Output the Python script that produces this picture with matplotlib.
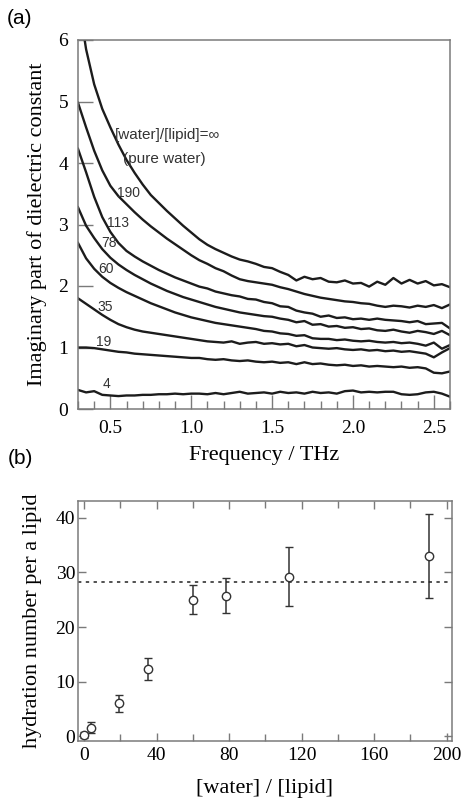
import numpy as np
import matplotlib.pyplot as plt
from matplotlib.ticker import MultipleLocator

# ---- panel (a): imaginary part of dielectric constant ----
freq = np.round(np.arange(0.30, 2.601, 0.05), 2)  # THz grid, 0.30 ... 2.60

eps_water = [6.70, 5.85, 5.28, 4.88, 4.58, 4.30, 4.05, 3.84, 3.65, 3.48, 3.35, 3.22,
             3.10, 2.98, 2.87, 2.76, 2.67, 2.60, 2.54, 2.48, 2.43, 2.40, 2.36, 2.31,
             2.29, 2.23, 2.18, 2.09, 2.15, 2.11, 2.13, 2.07, 2.06, 2.09, 2.04, 2.05,
             1.99, 2.07, 2.02, 2.13, 2.04, 2.10, 2.04, 2.08, 2.01, 2.03, 1.98]
eps_190 = [4.98, 4.58, 4.20, 3.88, 3.63, 3.46, 3.33, 3.20, 3.08, 2.97, 2.87, 2.77,
           2.68, 2.59, 2.50, 2.42, 2.36, 2.29, 2.24, 2.17, 2.11, 2.08, 2.06, 2.04,
           2.02, 1.98, 1.95, 1.91, 1.87, 1.84, 1.81, 1.79, 1.77, 1.75, 1.74, 1.72,
           1.71, 1.68, 1.66, 1.68, 1.67, 1.65, 1.68, 1.66, 1.69, 1.64, 1.70]
eps_113 = [4.23, 3.85, 3.45, 3.12, 2.88, 2.70, 2.57, 2.48, 2.40, 2.33, 2.26, 2.20,
           2.14, 2.09, 2.04, 1.99, 1.96, 1.91, 1.88, 1.85, 1.83, 1.79, 1.78, 1.74,
           1.72, 1.67, 1.66, 1.60, 1.57, 1.55, 1.50, 1.52, 1.48, 1.49, 1.46, 1.47,
           1.45, 1.47, 1.45, 1.44, 1.43, 1.41, 1.43, 1.38, 1.39, 1.40, 1.31]
eps_78 = [3.28, 2.98, 2.78, 2.60, 2.46, 2.35, 2.26, 2.18, 2.11, 2.04, 1.98, 1.92,
          1.87, 1.82, 1.78, 1.74, 1.70, 1.66, 1.63, 1.60, 1.57, 1.55, 1.53, 1.51,
          1.50, 1.47, 1.45, 1.41, 1.43, 1.37, 1.38, 1.34, 1.35, 1.32, 1.33, 1.30,
          1.31, 1.28, 1.27, 1.29, 1.26, 1.24, 1.27, 1.25, 1.22, 1.27, 1.20]
eps_60 = [2.70, 2.45, 2.28, 2.15, 2.05, 1.97, 1.90, 1.84, 1.78, 1.72, 1.67, 1.62,
          1.57, 1.53, 1.49, 1.46, 1.43, 1.40, 1.38, 1.36, 1.34, 1.32, 1.30, 1.27,
          1.26, 1.23, 1.22, 1.19, 1.20, 1.15, 1.14, 1.14, 1.12, 1.13, 1.11, 1.10,
          1.11, 1.09, 1.08, 1.09, 1.07, 1.08, 1.06, 1.03, 1.08, 0.98, 1.04]
eps_35 = [1.80, 1.71, 1.62, 1.53, 1.45, 1.38, 1.33, 1.29, 1.26, 1.24, 1.22, 1.20,
          1.18, 1.16, 1.14, 1.12, 1.10, 1.09, 1.08, 1.10, 1.06, 1.08, 1.09, 1.06,
          1.07, 1.05, 1.06, 1.02, 1.04, 1.00, 0.99, 0.98, 0.99, 0.97, 0.96, 0.97,
          0.95, 0.96, 0.94, 0.95, 0.93, 0.94, 0.92, 0.90, 0.84, 0.92, 0.99]
eps_19 = [1.00, 1.00, 0.99, 0.97, 0.95, 0.93, 0.92, 0.90, 0.89, 0.88, 0.87, 0.86,
          0.85, 0.84, 0.83, 0.83, 0.81, 0.80, 0.81, 0.79, 0.78, 0.79, 0.77, 0.76,
          0.77, 0.75, 0.76, 0.73, 0.76, 0.73, 0.74, 0.72, 0.71, 0.72, 0.70, 0.71,
          0.69, 0.70, 0.69, 0.68, 0.69, 0.67, 0.68, 0.66, 0.59, 0.58, 0.61]
eps_4 = [0.31, 0.27, 0.29, 0.23, 0.22, 0.21, 0.22, 0.22, 0.23, 0.23, 0.24, 0.24,
         0.25, 0.24, 0.25, 0.25, 0.24, 0.26, 0.24, 0.26, 0.28, 0.25, 0.26, 0.27,
         0.25, 0.28, 0.26, 0.27, 0.25, 0.28, 0.26, 0.27, 0.25, 0.29, 0.30, 0.27,
         0.28, 0.27, 0.28, 0.28, 0.24, 0.23, 0.24, 0.27, 0.28, 0.25, 0.20]

curves = [eps_water, eps_190, eps_113, eps_78, eps_60, eps_35, eps_19, eps_4]

# label text and its (frequency, value) anchor
curve_labels = ["190", "113", "78", "60", "35", "19", "4"]
label_f = [0.541, 0.477, 0.446, 0.425, 0.421, 0.409, 0.45]
label_v = [3.51, 3.02, 2.70, 2.28, 1.66, 1.09, 0.40]

# ---- panel (b): hydration number ----
ratio = [0, 4, 19, 35, 60, 78, 113, 190]
hydration = [0.2, 1.5, 6.0, 12.3, 25.0, 25.7, 29.2, 33.0]
hyd_err = [0.5, 1.0, 1.5, 2.0, 2.7, 3.2, 5.4, 7.7]
hyd_level = 28.2

serif = "Liberation Serif"
sans = ["Liberation Sans", "DejaVu Sans"]
spine_c = "#7a7a7a"
line_c = "#1c1c1c"
text_c = "#333333"

fig = plt.figure(figsize=(4.63, 8.0), dpi=100)

# ---------------- (a) ----------------
ax1 = fig.add_axes([78/463, 1-409/800, 372/463, 369/800])
for c in curves:
    ax1.plot(freq, c, color=line_c, lw=1.7, solid_joinstyle="round")
ax1.set_xlim(0.3, 2.6)
ax1.set_ylim(0, 6)
ax1.xaxis.set_major_locator(MultipleLocator(0.5))
ax1.xaxis.set_minor_locator(MultipleLocator(0.1))
ax1.yaxis.set_major_locator(MultipleLocator(1))
ax1.tick_params(axis="x", which="major", direction="in", length=10, width=1,
                color=spine_c, pad=8, labelsize=14)
ax1.tick_params(axis="x", which="minor", direction="in", length=6, width=1, color=spine_c)
ax1.tick_params(axis="y", which="major", direction="in", length=11, width=1,
                color=spine_c, pad=7, labelsize=14)
for lab in ax1.get_yticklabels():
    lab.set_fontfamily(serif)
ax1.set_xticks([0.5, 1.0, 1.5, 2.0, 2.5])
ax1.set_xticklabels(["0.5", "1.0", "1.5", "2.0", "2.5"], fontfamily=serif, fontsize=14)
for s in ax1.spines.values():
    s.set_color(spine_c)
    s.set_linewidth(1.1)
ax1.set_xlabel("Frequency / THz", fontfamily=serif, fontsize=16)
ax1.set_ylabel("Imaginary part of dielectric constant", fontfamily=serif, fontsize=16)
ax1.xaxis.set_label_coords(0.5, -0.10)
ax1.yaxis.set_label_coords(-0.083, 0.5)

ax1.text(0.528, 4.46, "[water]/[lipid]=\u221e", family=sans, fontsize=11,
         color=text_c, ha="left", va="center")
ax1.text(0.578, 4.07, "(pure water)", family=sans, fontsize=11,
         color=text_c, ha="left", va="center")
for t, f, v in zip(curve_labels, label_f, label_v):
    ax1.text(f, v, t, family=sans, fontsize=10, color=text_c, ha="left", va="center")

# ---------------- (b) ----------------
ax2 = fig.add_axes([78/463, 1-741/800, 374/463, 240/800])
ax2.errorbar(ratio, hydration, yerr=hyd_err, fmt="o", mfc="white", mec="#333333",
             ms=6, mew=1, ecolor="#333333", elinewidth=1.1, capsize=3, capthick=1.1)
ax2.axhline(hyd_level, color="#222222", lw=1.1, ls=(0, (2.2, 2.9)))
ax2.set_xlim(-3.4, 202.9)
ax2.set_ylim(-0.9, 43.1)
ax2.xaxis.set_major_locator(MultipleLocator(40))
ax2.xaxis.set_minor_locator(MultipleLocator(20))
ax2.yaxis.set_major_locator(MultipleLocator(10))
ax2.tick_params(axis="both", which="major", direction="in", length=6, width=1,
                color=spine_c, top=True, right=True, labelsize=14)
ax2.tick_params(axis="x", which="minor", direction="in", length=5, width=1,
                color=spine_c, top=True)
ax2.tick_params(axis="x", which="major", pad=4)
ax2.tick_params(axis="y", which="major", pad=2)
for lab in ax2.get_xticklabels() + ax2.get_yticklabels():
    lab.set_fontfamily(serif)
for s in ax2.spines.values():
    s.set_color(spine_c)
    s.set_linewidth(1.1)
ax2.set_xlabel("[water] / [lipid]", fontfamily=serif, fontsize=16)
ax2.set_ylabel("hydration number per a lipid", fontfamily=serif, fontsize=16)
ax2.xaxis.set_label_coords(0.5, -0.158)
ax2.yaxis.set_label_coords(-0.096, 0.5)

fig.text(7/463, 1-9/800, "(a)", family=sans, fontsize=15, va="top", ha="left")
fig.text(8/463, 1-449/800, "(b)", family=sans, fontsize=15, va="top", ha="left")

fig.savefig("out.png", dpi=100)
